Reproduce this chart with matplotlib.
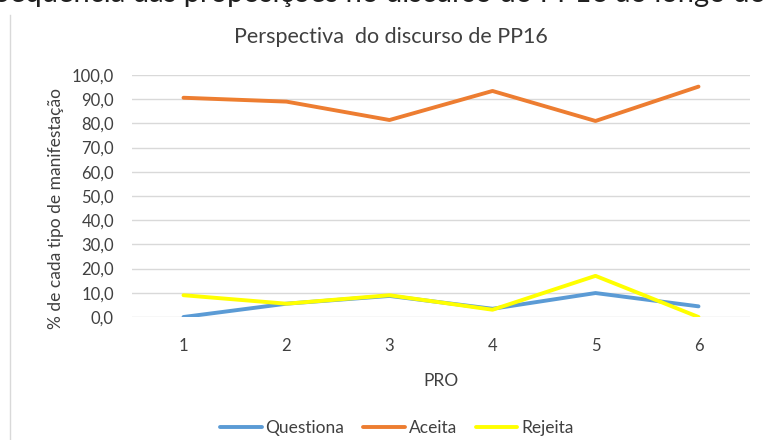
import matplotlib
matplotlib.use("Agg")
import matplotlib.pyplot as plt
from matplotlib.lines import Line2D

plt.rcParams["font.family"] = ["Lato", "DejaVu Sans"]

# dados
categorias = [1, 2, 3, 4, 5, 6]
questiona = [0.0, 5.5, 8.7, 3.4, 9.9, 4.4]
aceita = [90.6, 89.0, 81.4, 93.4, 81.0, 95.2]
rejeita = [9.0, 5.5, 9.0, 3.0, 17.0, 0.0]
yticks = [0, 10, 20, 30, 40, 50, 60, 70, 80, 90, 100]

TXT = "#404040"
FS = 12.5

fig = plt.figure(figsize=(7.66, 4.4), dpi=100)
fig.patch.set_facecolor("white")
ax = fig.add_axes([132 / 766, 1 - 317 / 440, (750 - 132) / 766, (317 - 75) / 440])

ax.plot(categorias, questiona, color="#5B9BD5", lw=2.8, label="Questiona", solid_capstyle="round")
ax.plot(categorias, aceita, color="#ED7D31", lw=2.8, label="Aceita", solid_capstyle="round")
ax.plot(categorias, rejeita, color="#FFFF00", lw=2.8, label="Rejeita", solid_capstyle="round")

ax.set_xlim(0.5, 6.5)
ax.set_ylim(0, 100)
ax.set_xticks(categorias)
ax.set_yticks(yticks)
ax.set_yticklabels([f"{v:.1f}".replace(".", ",") for v in yticks])
ax.tick_params(length=0, labelsize=12, labelcolor=TXT)
ax.tick_params(axis="y", pad=13)
ax.tick_params(axis="x", pad=15)
ax.grid(axis="y", color="#D9D9D9", lw=1)
ax.set_axisbelow(True)
for s in ax.spines.values():
    s.set_visible(False)

ax.set_xlabel("PRO", fontsize=FS, color=TXT, labelpad=14)
ax.set_ylabel("% de cada tipo de manifestação", fontsize=FS, color=TXT, labelpad=8)
ax.yaxis.set_label_coords(-0.11, 0.45)

fig.text(0.51, 1 - 37 / 440, "Perspectiva  do discurso de PP16", ha="center", va="center",
         fontsize=15.5, color=TXT)

# texto cortado no topo da imagem (so a parte de baixo aparece)
fig.text(-0.008, 1 - 2 / 440, "Sequência das proposições no discurso do PP16 ao longo do",
         ha="left", va="baseline", fontsize=21, color="#202020")

# borda esquerda da area do grafico
fig.add_artist(Line2D([10 / 766, 10 / 766], [0, 1 - 15 / 440], color="#D9D9D9", lw=1))

fig.legend(loc="center", bbox_to_anchor=(0.518, 1 - 428 / 440), ncol=3, frameon=False,
           fontsize=FS, handlelength=2.4, columnspacing=1.1, handletextpad=0.2,
           labelcolor=TXT)

fig.savefig("out.png", dpi=100)
